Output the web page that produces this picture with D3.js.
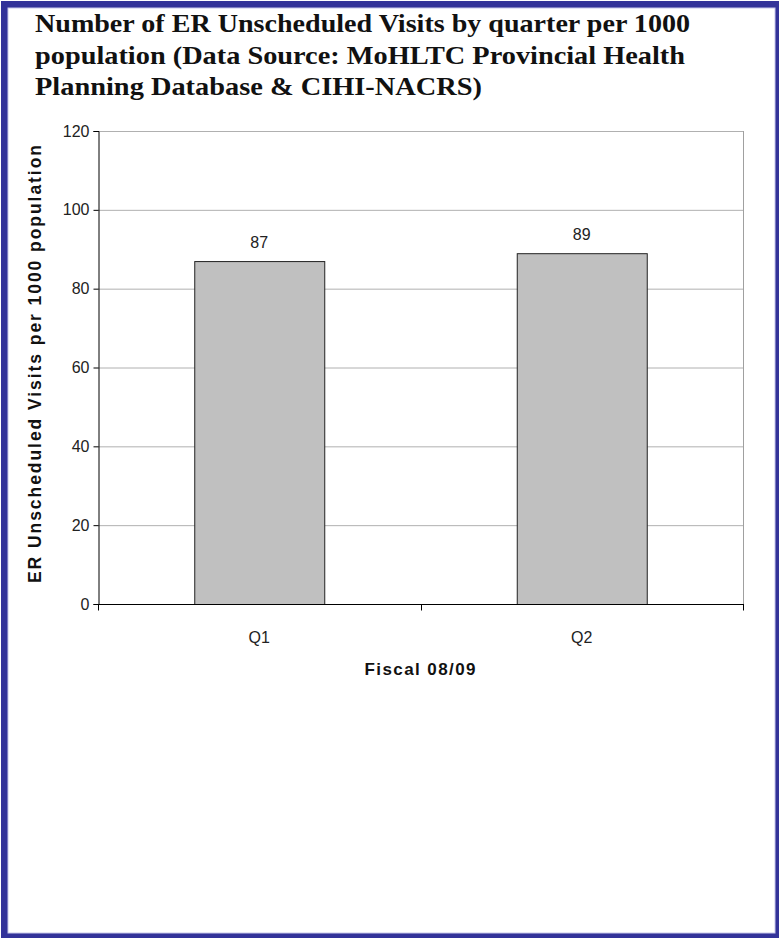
<!DOCTYPE html>
<html><head><meta charset="utf-8">
<script src="https://cdn.jsdelivr.net/npm/d3@7"></script>
<style>html,body{margin:0;padding:0;background:#fff;}</style>
</head><body>
<script>
const categories = ["Q1", "Q2"];
const values = [87, 89];
const yTicks = [0, 20, 40, 60, 80, 100, 120];
const titleLines = [
  "Number of ER Unscheduled Visits by quarter per 1000",
  "population (Data Source: MoHLTC Provincial Health",
  "Planning Database & CIHI-NACRS)"
];
const yLabel = "ER Unscheduled Visits per 1000 population";
const xLabel = "Fiscal 08/09";

const W = 779, H = 938;
const svg = d3.select("body").append("svg").attr("width", W).attr("height", H);

// frame
svg.append("rect").attr("x", 0).attr("y", 0).attr("width", W).attr("height", H).attr("fill", "#fff");
svg.append("path")
  .attr("fill", "#333399").attr("fill-rule", "evenodd")
  .attr("d", `M1,1 H${W} V${H} H1 Z M8,8 H775 V933 H8 Z`);
svg.append("rect").attr("x", 8).attr("y", 8).attr("width", 767).attr("height", 925)
  .attr("fill", "none").attr("stroke", "#c8c8ea").attr("stroke-width", 1);

// title
const titleWidths = [655, 650, 447];
titleLines.forEach((t, i) => {
  svg.append("text").attr("x", 35).attr("y", 32 + i * 31.5)
    .attr("font-family", "Liberation Serif, serif").attr("font-weight", "bold")
    .attr("font-size", 25).attr("fill", "#111")
    .attr("textLength", titleWidths[i]).attr("lengthAdjust", "spacingAndGlyphs")
    .text(t);
});

const m = {left: 98, right: 743, top: 131, bottom: 604};
const xOuter = d3.scaleBand().domain(categories).range([m.left, m.right]);
const y = d3.scaleLinear().domain([0, 120]).range([m.bottom, m.top]);
const tickFont = "Liberation Sans, Arial, sans-serif";

// gridlines
svg.append("g").selectAll("line").data(yTicks.filter(d => d > 0)).join("line")
  .attr("x1", m.left).attr("x2", m.right)
  .attr("y1", d => y(d) + 0.5).attr("y2", d => y(d) + 0.5)
  .attr("stroke", "#b0b0b0").attr("stroke-width", 1);
// right edge of plot
svg.append("line").attr("x1", m.right + 0.5).attr("x2", m.right + 0.5)
  .attr("y1", m.top).attr("y2", m.bottom).attr("stroke", "#a0a0a0");

// bars
svg.append("g").selectAll("rect").data(values).join("rect")
  .attr("x", (d, i) => xOuter(categories[i]) + xOuter.bandwidth() / 2 - 65 + 0.5)
  .attr("width", 130)
  .attr("y", d => y(d) + 0.5)
  .attr("height", d => y(0) - y(d))
  .attr("fill", "#c0c0c0").attr("stroke", "#222").attr("stroke-width", 1);

// value labels
svg.append("g").selectAll("text").data(values).join("text")
  .attr("x", (d, i) => xOuter(categories[i]) + xOuter.bandwidth() / 2)
  .attr("y", d => y(d) - 13)
  .attr("text-anchor", "middle")
  .attr("font-family", tickFont).attr("font-size", 16)
  .attr("fill", "#222").text(d => d);

// y axis
const yAxis = svg.append("g").attr("transform", `translate(${m.left + 0.5},0)`)
  .call(d3.axisLeft(y).tickValues(yTicks).tickSize(5).tickPadding(4));
yAxis.select(".domain").attr("stroke", "#000");
yAxis.selectAll(".tick line").attr("stroke", "#000");
yAxis.selectAll("text").attr("font-family", tickFont)
  .attr("font-size", 16).attr("fill", "#222");

// x axis
const xAxisG = svg.append("g").attr("transform", `translate(0,${m.bottom + 0.5})`);
xAxisG.append("line").attr("x1", m.left).attr("x2", m.right + 1).attr("stroke", "#000");
const boundaries = [m.left, xOuter(categories[1]), m.right];
xAxisG.selectAll("line.tk").data(boundaries).join("line").attr("class", "tk")
  .attr("x1", d => Math.round(d) + 0.5).attr("x2", d => Math.round(d) + 0.5)
  .attr("y1", 0).attr("y2", 6).attr("stroke", "#000");
xAxisG.selectAll("text").data(categories).join("text")
  .attr("x", d => xOuter(d) + xOuter.bandwidth() / 2).attr("y", 38)
  .attr("text-anchor", "middle")
  .attr("font-family", tickFont).attr("font-size", 16)
  .attr("fill", "#222").text(d => d);

// axis titles
svg.append("text").attr("x", 420).attr("y", 675).attr("text-anchor", "middle")
  .attr("font-family", tickFont).attr("font-weight", "bold")
  .attr("font-size", 17).attr("fill", "#111")
  .attr("textLength", 111).attr("lengthAdjust", "spacing").text(xLabel);

svg.append("text").attr("transform", `translate(41,${(145 + 583) / 2}) rotate(-90)`)
  .attr("text-anchor", "middle")
  .attr("font-family", tickFont).attr("font-weight", "bold")
  .attr("font-size", 17.5).attr("fill", "#111")
  .attr("textLength", 438).attr("lengthAdjust", "spacing").text(yLabel);
</script>
</body></html>
